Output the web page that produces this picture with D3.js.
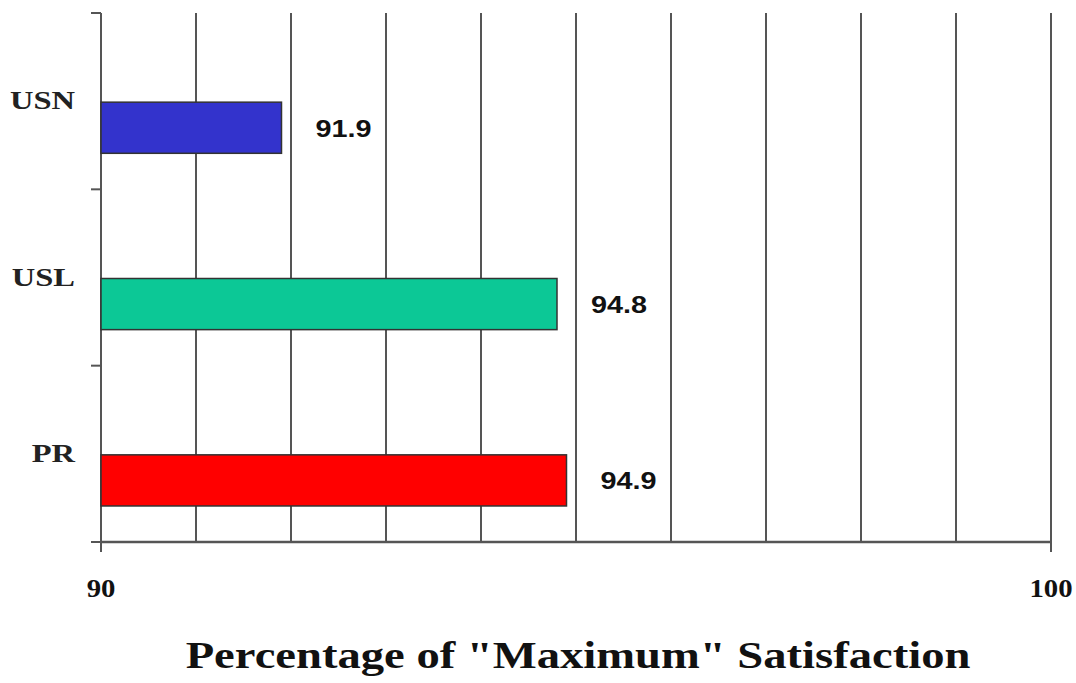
<!DOCTYPE html>
<html>
<head>
<meta charset="utf-8">
<script src="https://cdn.jsdelivr.net/npm/d3@7"></script>
<style>
  html, body { margin: 0; padding: 0; background: #fff; }
  svg { display: block; }
</style>
</head>
<body>
<svg id="chart" width="1076" height="683"></svg>
<script>
// ---- data ----
const categories = ["USN", "USL", "PR"];
const values = [91.9, 94.8, 94.9];
const colors = ["#3333cc", "#0cc896", "#ff0000"];
const xDomain = [90, 100];
const gridValues = [91, 92, 93, 94, 95, 96, 97, 98, 99, 100];
const tickLabels = [90, 100];
const axisTitle = 'Percentage of "Maximum" Satisfaction';

// ---- layout ----
const W = 1076, H = 683;
const mLeft = 101, mRight = 1051, mTop = 13, mBottom = 542;
const svg = d3.select("#chart");
svg.append("rect").attr("width", W).attr("height", H).attr("fill", "#fff");

const x = d3.scaleLinear().domain(xDomain).range([mLeft, mRight]);
const y = d3.scaleBand().domain(categories).range([mTop, mBottom]).padding(0);
const bw = y.bandwidth();
const lineColor = "#555";

// gridlines
svg.append("g").selectAll("line").data(gridValues).join("line")
  .attr("x1", d => x(d)).attr("x2", d => x(d))
  .attr("y1", mTop).attr("y2", d => d === xDomain[1] ? mBottom + 10 : mBottom)
  .attr("stroke", lineColor).attr("stroke-width", 2);

// left axis with ticks at category boundaries
const yAxisG = svg.append("g").attr("transform", `translate(${mLeft},0)`);
yAxisG.append("line").attr("x1", 0).attr("x2", 0).attr("y1", mTop).attr("y2", mBottom + 10)
  .attr("stroke", lineColor).attr("stroke-width", 2);
const boundaries = categories.map(c => y(c)).concat([mBottom]);
yAxisG.selectAll("line.tk").data(boundaries).join("line").attr("class", "tk")
  .attr("x1", -10).attr("x2", 0).attr("y1", d => d).attr("y2", d => d)
  .attr("stroke", lineColor).attr("stroke-width", 2);

// bottom axis line
svg.append("line").attr("x1", mLeft).attr("x2", mRight).attr("y1", mBottom).attr("y2", mBottom)
  .attr("stroke", lineColor).attr("stroke-width", 2.5);

// bars
const barOff = bw * 0.5 + 1, barH = bw * 0.29;
svg.append("g").selectAll("rect").data(categories).join("rect")
  .attr("x", mLeft)
  .attr("y", c => y(c) + barOff)
  .attr("width", (c, i) => x(values[i]) - mLeft)
  .attr("height", barH)
  .attr("fill", (c, i) => colors[i])
  .attr("stroke", "#333").attr("stroke-width", 1.5);

// value labels
svg.append("g").selectAll("text").data(categories).join("text")
  .attr("transform", (c, i) => `translate(${x(values[i]) + 34},${y(c) + barOff + barH / 2 + 9}) scale(1.2,1)`)
  .attr("font-family", "Liberation Sans, Arial, sans-serif")
  .attr("font-weight", "bold").attr("font-size", 24).attr("fill", "#111")
  .text((c, i) => values[i].toFixed(1));

// category labels
svg.append("g").selectAll("text").data(categories).join("text")
  .attr("transform", c => `translate(75,${y(c) + bw / 2 + 8}) scale(1.3,1)`)
  .attr("text-anchor", "end")
  .attr("font-family", "Liberation Serif, Times New Roman, serif")
  .attr("font-weight", "bold").attr("font-size", 25).attr("fill", "#222")
  .text(c => c);

// x tick labels
svg.append("g").selectAll("text").data(tickLabels).join("text")
  .attr("transform", d => `translate(${x(d)},${mBottom + 55}) scale(1.15,1)`)
  .attr("text-anchor", "middle")
  .attr("font-family", "Liberation Serif, Times New Roman, serif")
  .attr("font-weight", "bold").attr("font-size", 25).attr("fill", "#111")
  .text(d => d);

// axis title
svg.append("text")
  .attr("transform", `translate(578,668) scale(1.195,1)`)
  .attr("text-anchor", "middle")
  .attr("font-family", "Liberation Serif, Times New Roman, serif")
  .attr("font-weight", "bold").attr("font-size", 39).attr("fill", "#111")
  .text(axisTitle);
</script>
</body>
</html>
